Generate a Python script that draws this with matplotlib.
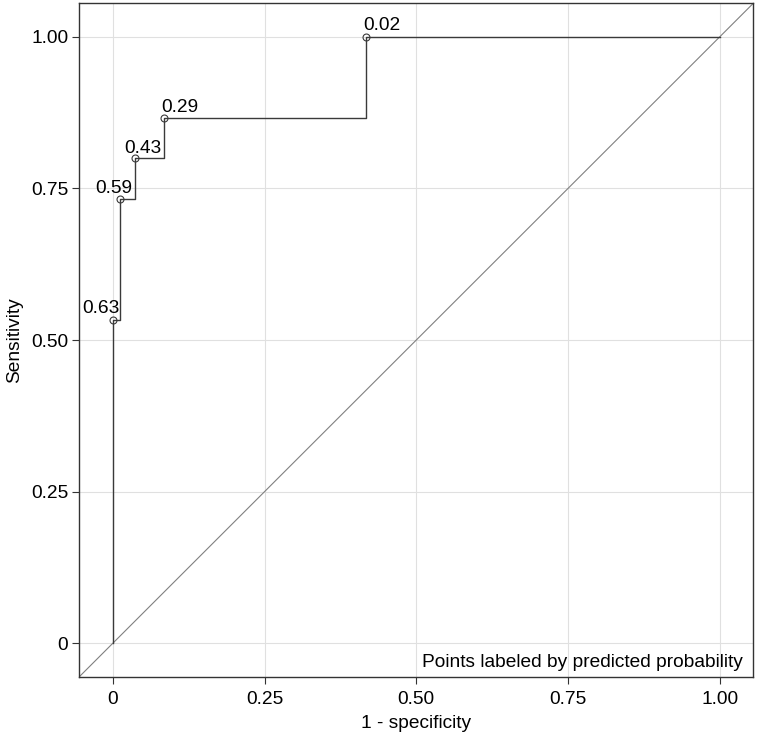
import matplotlib.pyplot as plt

plt.rcParams["font.family"] = ["Liberation Sans", "DejaVu Sans"]

# ROC points (1 - specificity, sensitivity)
fpr = [0, 0, 1 / 84, 3 / 84, 7 / 84, 35 / 84, 1.0]
tpr = [0, 8 / 15, 11 / 15, 12 / 15, 13 / 15, 1.0, 1.0]
# labelled cut points (predicted probability)
lab_idx = [1, 2, 3, 4, 5]
lab_text = ["0.63", "0.59", "0.43", "0.29", "0.02"]
lab_offset = [(-31, 7), (-25, 6), (-10, 5), (-2, 6), (-3, 7)]

ticks = [0, 0.25, 0.5, 0.75, 1.0]
tick_labels = ["0", "0.25", "0.50", "0.75", "1.00"]

fs = 13.8

fig = plt.figure(figsize=(7.57, 7.35), dpi=100)
ax = fig.add_axes([0.1048, 0.0793, 0.8903, 0.9162])

lo, hi = -0.0555, 1.0555
ax.plot([lo, hi], [lo, hi], color="#808080", lw=0.8, zorder=2)
ax.plot(fpr, tpr, drawstyle="steps-post", color="#3a3a3a", lw=1.0, zorder=3)
ax.plot([fpr[i] for i in lab_idx], [tpr[i] for i in lab_idx], "o",
        ms=5, mfc="none", mec="#3a3a3a", mew=0.8, zorder=4)
for i, t, off in zip(lab_idx, lab_text, lab_offset):
    ax.annotate(t, (fpr[i], tpr[i]), xytext=off, textcoords="offset pixels",
                fontsize=fs, ha="left", va="baseline", color="black")

ax.set_xlim(lo, hi)
ax.set_ylim(lo, hi)
ax.set_xticks(ticks)
ax.set_xticklabels(tick_labels)
ax.set_yticks(ticks)
ax.set_yticklabels(tick_labels)
ax.tick_params(labelsize=fs, length=5, width=0.8, color="#333333")
ax.tick_params(axis="x", pad=5)
ax.tick_params(axis="y", pad=3)
ax.grid(True, color="#e0e0e0", lw=0.8)
ax.set_axisbelow(True)
for s in ax.spines.values():
    s.set_color("#333333")
    s.set_linewidth(1.0)

ax.set_xlabel("1 - specificity", fontsize=fs, labelpad=5)
ax.set_ylabel("Sensitivity", fontsize=fs, labelpad=6)
ax.text(0.985, 0.014, "Points labeled by predicted probability",
        transform=ax.transAxes, ha="right", va="baseline", fontsize=fs)

fig.savefig("out.png", dpi=100)
